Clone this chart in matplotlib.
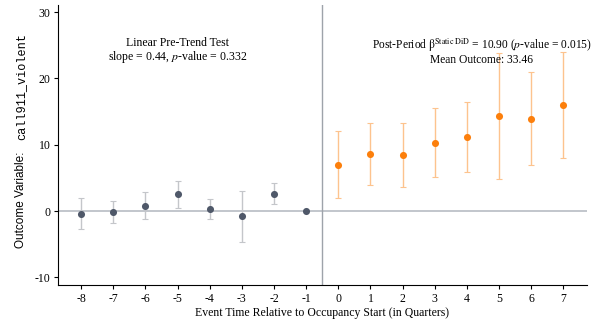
import numpy as np
import matplotlib.pyplot as plt

# event-study coefficients, 95% CIs
pre_t = [-8, -7, -6, -5, -4, -3, -2, -1]
pre_b = [-0.4, -0.15, 0.8, 2.55, 0.3, -0.75, 2.55, 0.0]
pre_lo = [-2.7, -1.8, -1.2, 0.4, -1.2, -4.6, 1.0, 0.0]
pre_hi = [1.9, 1.55, 2.85, 4.6, 1.85, 3.05, 4.2, 0.0]

post_t = [0, 1, 2, 3, 4, 5, 6, 7]
post_b = [6.98, 8.6, 8.4, 10.3, 11.2, 14.3, 13.9, 16.0]
post_lo = [1.9, 3.9, 3.6, 5.1, 5.9, 4.8, 6.9, 8.0]
post_hi = [12.0, 13.3, 13.2, 15.5, 16.5, 23.9, 20.9, 24.0]

yticks = [-10, 0, 10, 20, 30]

plt.rcParams['font.family'] = ['Liberation Serif', 'DejaVu Serif']
plt.rcParams['mathtext.fontset'] = 'stix'
plt.rcParams['axes.unicode_minus'] = False

fig = plt.figure(figsize=(5.96, 3.22), dpi=100)
ax = fig.add_axes([0.0973, 0.1149, 0.8871, 0.8696])

ax.axhline(0, color='#c2c6cc', lw=1.4, zorder=1)
ax.axvline(-0.5, color='#9ea3aa', lw=1.0, zorder=1)

def draw(t, b, lo, hi, ecol, mcol):
    t = np.array(t); b = np.array(b); lo = np.array(lo); hi = np.array(hi)
    keep = hi > lo
    ax.errorbar(t[keep], b[keep], yerr=[b[keep] - lo[keep], hi[keep] - b[keep]],
                fmt='none', ecolor=ecol, elinewidth=1.0, capsize=2, capthick=0.8, zorder=2)
    ax.scatter(t, b, s=26, color=mcol, zorder=3, linewidths=0)

draw(pre_t, pre_b, pre_lo, pre_hi, '#c4c6ca', '#4f5869')
draw(post_t, post_b, post_lo, post_hi, '#fdc38e', '#fc7f0c')

ax.set_xlim(-8.72, 7.73)
ax.set_ylim(-11.16, 31.07)
ax.set_xticks(pre_t + post_t)
ax.set_yticks(yticks)
ax.tick_params(labelsize=8.5, length=3, width=0.8, pad=2.5)
for s in ['top', 'right']:
    ax.spines[s].set_visible(False)
ax.set_xlabel('Event Time Relative to Occupancy Start (in Quarters)', fontsize=8.5, labelpad=2)

ax.text(-5.0, 24.1, 'Linear Pre-Trend Test\nslope = 0.44, $p$-value = 0.332',
        ha='center', va='center', fontsize=8.5, linespacing=1.0)
ax.text(4.47, 24.1, r'Post-Period $\mathrm{\beta}^{\mathrm{Static\ DiD}}$ = 10.90 ($p$-value = 0.015)' + '\nMean Outcome: 33.46',
        ha='center', va='center', fontsize=8.3, linespacing=1.0)

fig.text(0.035, 0.23, 'Outcome Variable:', rotation=90, ha='center', va='bottom',
         fontsize=8.5, family='Liberation Sans')
fig.text(0.035, 0.565, 'call911_violent', rotation=90, ha='center', va='bottom',
         fontsize=8.6, family='Liberation Mono')

fig.savefig('out.png', dpi=100)
